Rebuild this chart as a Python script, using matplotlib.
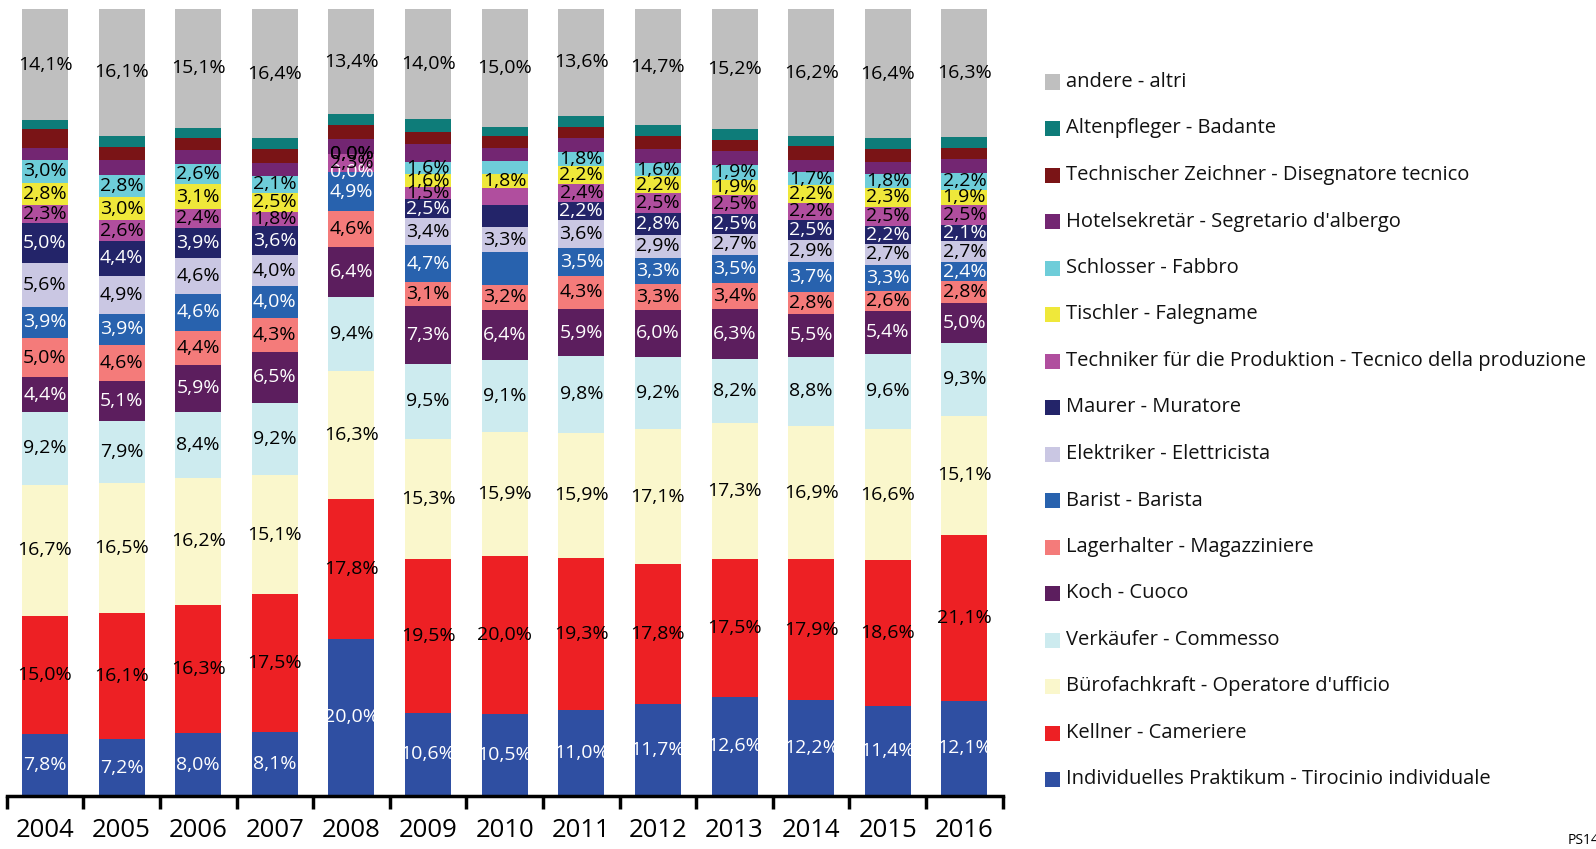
import matplotlib
matplotlib.use("Agg")
import matplotlib.pyplot as plt
import numpy as np
from matplotlib.patches import Rectangle

plt.rcParams['font.family'] = ['Open Sans', 'DejaVu Sans']

years = ['2004', '2005', '2006', '2007', '2008', '2009', '2010',
         '2011', '2012', '2013', '2014', '2015', '2016']

# stacked bottom -> top
categories = [
    'Individuelles Praktikum - Tirocinio individuale',
    'Kellner - Cameriere',
    "Bürofachkraft - Operatore d'ufficio",
    'Verkäufer - Commesso',
    'Koch - Cuoco',
    'Lagerhalter - Magazziniere',
    'Barist - Barista',
    'Elektriker - Elettricista',
    'Maurer - Muratore',
    'Techniker für die Produktion - Tecnico della produzione',
    'Tischler - Falegname',
    'Schlosser - Fabbro',
    "Hotelsekretär - Segretario d'albergo",
    'Technischer Zeichner - Disegnatore tecnico',
    'Altenpfleger - Badante',
    'andere - altri',
]

praktikum = [7.8, 7.2, 8.0, 8.1, 20.0, 10.6, 10.5, 11.0, 11.7, 12.6, 12.2, 11.4, 12.1]
kellner = [15.0, 16.1, 16.3, 17.5, 17.8, 19.5, 20.0, 19.3, 17.8, 17.5, 17.9, 18.6, 21.1]
buero = [16.7, 16.5, 16.2, 15.1, 16.3, 15.3, 15.9, 15.9, 17.1, 17.3, 16.9, 16.6, 15.1]
verkaeufer = [9.2, 7.9, 8.4, 9.2, 9.4, 9.5, 9.1, 9.8, 9.2, 8.2, 8.8, 9.6, 9.3]
koch = [4.4, 5.1, 5.9, 6.5, 6.4, 7.3, 6.4, 5.9, 6.0, 6.3, 5.5, 5.4, 5.0]
lager = [5.0, 4.6, 4.4, 4.3, 4.6, 3.1, 3.2, 4.3, 3.3, 3.4, 2.8, 2.6, 2.8]
barist = [3.9, 3.9, 4.6, 4.0, 4.9, 4.7, 4.1, 3.5, 3.3, 3.5, 3.7, 3.3, 2.4]
elektriker = [5.6, 4.9, 4.6, 4.0, 0.0, 3.4, 3.3, 3.6, 2.9, 2.7, 2.9, 2.7, 2.7]
maurer = [5.0, 4.4, 3.9, 3.6, 0.0, 2.5, 2.7, 2.2, 2.8, 2.5, 2.5, 2.2, 2.1]
techniker = [2.3, 2.6, 2.4, 1.8, 2.3, 1.5, 2.2, 2.4, 2.5, 2.5, 2.2, 2.5, 2.5]
tischler = [2.8, 3.0, 3.1, 2.5, 0.0, 1.6, 1.8, 2.2, 2.2, 1.9, 2.2, 2.3, 1.9]
schlosser = [3.0, 2.8, 2.6, 2.1, 0.0, 1.6, 1.6, 1.8, 1.6, 1.9, 1.7, 1.8, 2.2]
hotel = [1.5, 1.9, 1.8, 1.7, 2.0, 2.3, 1.7, 1.8, 1.8, 1.7, 1.5, 1.5, 1.7]
techz = [2.4, 1.6, 1.5, 1.7, 1.7, 1.5, 1.5, 1.4, 1.7, 1.4, 1.8, 1.7, 1.5]
alten = [1.1, 1.5, 1.3, 1.4, 1.4, 1.6, 1.2, 1.4, 1.4, 1.5, 1.2, 1.4, 1.3]
andere = [14.1, 16.1, 15.1, 16.4, 13.4, 14.0, 15.0, 13.6, 14.7, 15.2, 16.2, 16.4, 16.3]

series = [praktikum, kellner, buero, verkaeufer, koch, lager, barist, elektriker,
          maurer, techniker, tischler, schlosser, hotel, techz, alten, andere]

colors = ['#2f4fa2', '#ed2024', '#faf7cc', '#cdebef', '#5c1e5e', '#f47b7a',
          '#2862ae', '#cac7e3', '#232469', '#b04e9e', '#efe83a', '#6ecdd9',
          '#732672', '#7a1416', '#0e7c79', '#bfbfbf']
text_colors = ['white', 'black', 'black', 'black', 'white', 'black', 'white', 'black',
               'white', 'black', 'black', 'black', 'black', 'black', 'black', 'black']

no_label_cats = [12, 13, 14]
hidden_labels = [(6, 6), (8, 6), (9, 6), (11, 6), (7, 4)]  # (category, year index)

data = np.array(series, dtype=float)
heights = data / data.sum(axis=0) * 100

fig = plt.figure(figsize=(15.96, 8.49), dpi=100)
ax = fig.add_axes([6.7 / 1596, 53 / 849, 996 / 1596, 787 / 849])

x = np.arange(len(years))
bottom = np.zeros(len(years))
for i, (h, c) in enumerate(zip(heights, colors)):
    ax.bar(x, h, width=0.6, bottom=bottom, color=c, linewidth=0)
    if i not in no_label_cats:
        for j in range(len(years)):
            if (i, j) in hidden_labels:
                continue
            lbl = f"{data[i, j]:.1f}%".replace('.', ',')
            ax.text(x[j], bottom[j] + h[j] / 2, lbl, ha='center', va='center',
                    fontsize=14, color=text_colors[i])
    bottom += h

ax.set_xlim(-0.5, len(years) - 0.5)
ax.set_ylim(0, 100)
ax.set_yticks([])
for s in ['left', 'right', 'top']:
    ax.spines[s].set_visible(False)
ax.spines['bottom'].set_linewidth(2.5)
ax.set_xticks(x)
ax.set_xticklabels(years, fontsize=18.5)
ax.tick_params(axis='x', which='major', length=0, pad=16)
ax.set_xticks(np.arange(len(years) + 1) - 0.5, minor=True)
ax.tick_params(axis='x', which='minor', length=9, width=2.5, direction='out')

# legend, top entry = top of stack
y0 = 849 - 82
for k, i in enumerate(range(len(categories) - 1, -1, -1)):
    yc = (y0 - k * 46.5) / 849
    fig.add_artist(Rectangle((1045 / 1596, yc - 7.5 / 849), 15 / 1596, 15 / 849,
                             transform=fig.transFigure, color=colors[i], lw=0))
    fig.text(1066 / 1596, yc, categories[i], fontsize=14.5, va='center', ha='left',
             color='#111111')

fig.text(1568 / 1596, 9 / 849, 'PS14', fontsize=10, va='center', ha='left')

fig.savefig('out.png', dpi=100)
